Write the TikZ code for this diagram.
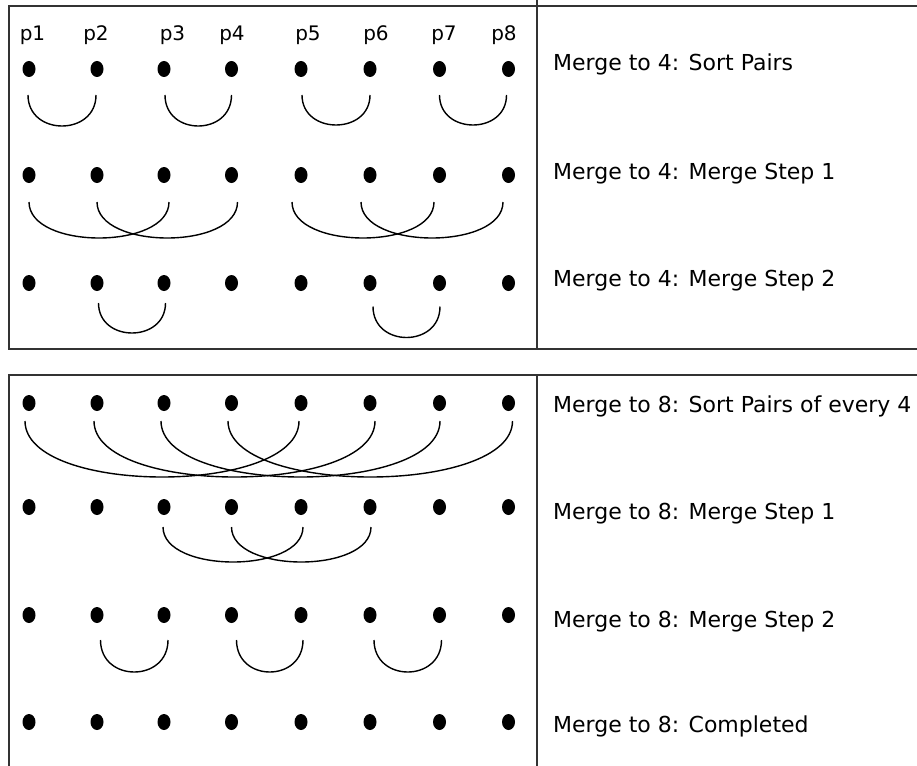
\documentclass[tikz,border=0pt]{standalone}
\usepackage{fontspec}
\setmainfont{DejaVu Sans}
\usetikzlibrary{shapes.geometric}
\newcommand\linkarc[7]{%
  \draw[link] ([shift={(#4,#6)}]r#1-#2.center) .. controls +(0,{#7*4/3}) and +(0,{#7*4/3}) .. ([shift={(#5,#6)}]r#1-#3.center);}
\begin{document}
\begin{tikzpicture}[x=1pt,y=-1pt,
  dot/.style={ellipse,fill=black,minimum width=13pt,minimum height=16pt,inner sep=0pt},
  link/.style={black,line width=1.4pt},
  frame/.style={draw=black!80,line width=2pt},
  lbl/.style={anchor=base west,inner sep=0pt,font=\fontsize{22pt}{26pt}\selectfont},
  plbl/.style={anchor=base,inner sep=0pt,font=\fontsize{20pt}{24pt}\selectfont}]
\useasboundingbox (0,0) rectangle (917,765);
\fill[white] (0,0) rectangle (917,765);
% frames
\draw[frame] (920,6) -- (9,6) -- (9,349) -- (920,349);
\draw[frame] (537,-2) -- (537,349);
\draw[frame] (920,375) -- (9,375) -- (9,770);
\draw[frame] (537,375) -- (537,770);
% dots
\foreach \r/\y in {1/69,2/175,3/283,4/403,5/507,6/615,7/722}
  \foreach \c/\x in {1/29,2/97,3/164,4/231.5,5/301,6/370,7/439.5,8/508.5}
    \node[dot] (r\r-\c) at (\x,\y) {};
% column labels
\foreach \c/\x in {1/32.5,2/96,3/172.5,4/232,5/308,6/376,7/444,8/504}
  \node[plbl] (p\c) at (\x,41) {p\c};
% row labels
\node[lbl] (t1) at (553,71) {Merge to 4: Sort Pairs};
\node[lbl] (t2) at (553,179) {Merge to 4: Merge Step 1};
\node[lbl] (t3) at (553,286) {Merge to 4: Merge Step 2};
\node[lbl] (t4) at (553,412) {Merge to 8: Sort Pairs of every 4};
\node[lbl] (t5) at (553,519) {Merge to 8: Merge Step 1};
\node[lbl] (t6) at (553,627) {Merge to 8: Merge Step 2};
\node[lbl] (t7) at (553,732) {Merge to 8: Completed};
% row 1
\linkarc{1}{1}{2}{-1}{-1}{26}{31}
\linkarc{1}{3}{4}{1}{0}{26}{31}
\linkarc{1}{5}{6}{1}{0}{26}{30}
\linkarc{1}{7}{8}{0}{-2}{26}{30}
% row 2
\linkarc{2}{1}{3}{0}{5}{27}{36}
\linkarc{2}{2}{4}{0}{6}{27}{36}
\linkarc{2}{5}{7}{-9}{-5.5}{27}{36}
\linkarc{2}{6}{8}{-9}{-5.5}{27}{36}
% row 3
\linkarc{3}{2}{3}{1.5}{1.5}{20}{30}
\linkarc{3}{6}{7}{3}{0.5}{23.5}{31}
% row 4
\linkarc{4}{1}{5}{-4}{-2}{18}{56}
\linkarc{4}{2}{6}{-3}{5}{18}{56}
\linkarc{4}{3}{7}{-3}{0.5}{18}{56}
\linkarc{4}{4}{8}{-3.5}{4}{18}{56}
% row 5
\linkarc{5}{3}{5}{-1}{2}{20}{35}
\linkarc{5}{4}{6}{0}{1}{20}{35}
% row 6
\linkarc{6}{2}{3}{3.5}{4}{25}{32}
\linkarc{6}{4}{5}{5}{2}{25}{32}
\linkarc{6}{6}{7}{4}{2}{25}{32}
\end{tikzpicture}
\end{document}
